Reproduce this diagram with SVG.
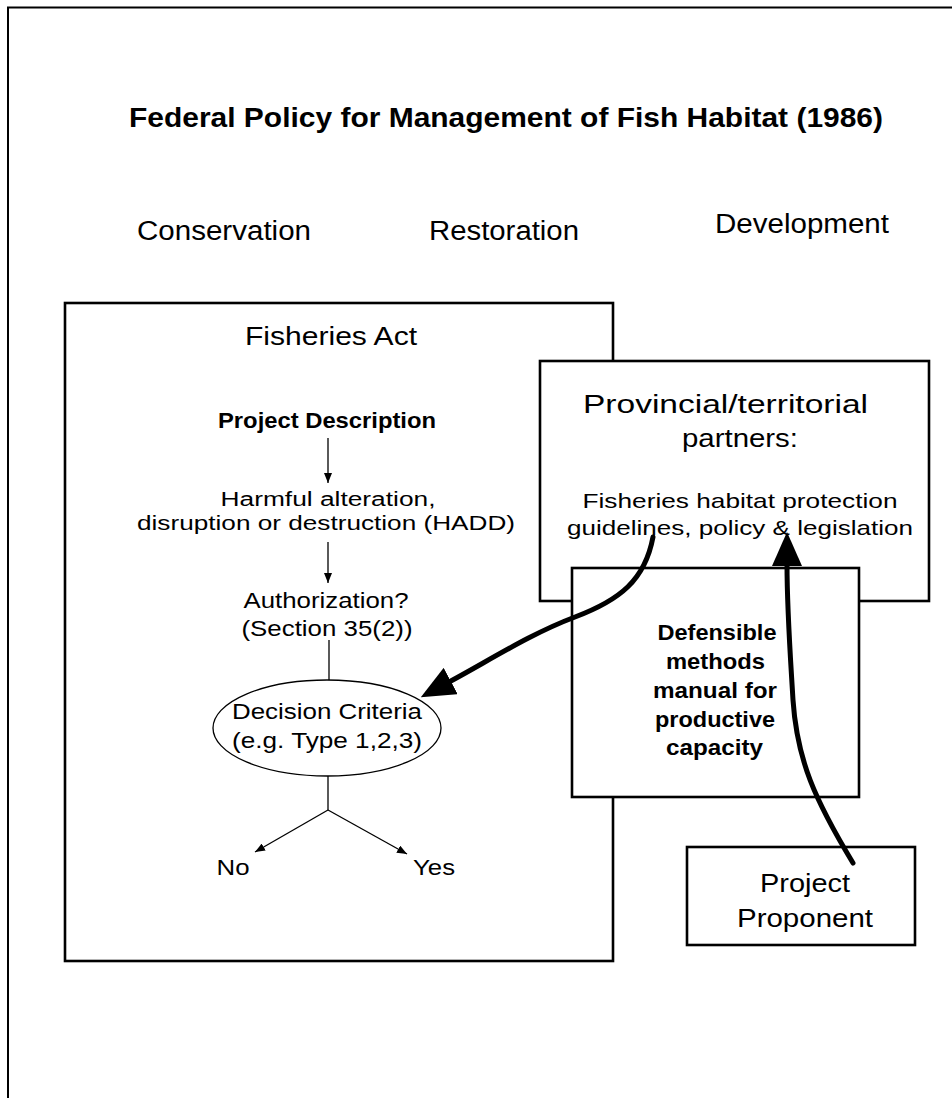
<svg xmlns="http://www.w3.org/2000/svg" width="952" height="1098" viewBox="0 0 952 1098">
  <style>
    text { font-family: "Liberation Sans", Arial, sans-serif; fill: #000; text-anchor: middle; }
    .title { font-size: 28px; font-weight: bold; }
    .col { font-size: 27px; }
    .head { font-size: 26px; }
    .bodyb { font-size: 22px; font-weight: bold; }
    .body { font-size: 22px; }
    .body2 { font-size: 20px; }
    .prov { font-size: 25px; }
    .prov2 { font-size: 21px; }
    .pp { font-size: 26px; }
    .box { fill: #fff; stroke: #000; stroke-width: 2.6; }
    .thin { fill: none; stroke: #000; stroke-width: 1.3; }
    .thick { fill: none; stroke: #000; stroke-width: 5; stroke-linecap: round; }
  </style>
  <defs>
    <marker id="small" markerUnits="userSpaceOnUse" viewBox="0 0 10 8" refX="10" refY="4" markerWidth="10" markerHeight="8" orient="auto">
      <path d="M0,0 L10,4 L0,8 z" fill="#000"/>
    </marker>
    <marker id="big" markerUnits="userSpaceOnUse" viewBox="0 0 34 30" refX="2" refY="15" markerWidth="34" markerHeight="30" orient="auto">
      <path d="M0,0 L34,15 L0,30 z" fill="#000"/>
    </marker>
  </defs>
  <rect x="0" y="0" width="952" height="1098" fill="#fff"/>
  <path d="M8 1098 V7.5 H952" fill="none" stroke="#000" stroke-width="2"/>

  <g id="title">
    <text class="title" x="506" y="127" textLength="754" lengthAdjust="spacingAndGlyphs">Federal Policy for Management of Fish Habitat (1986)</text>
  </g>
  <g id="conservation">
    <text class="col" x="224" y="240" textLength="174" lengthAdjust="spacingAndGlyphs">Conservation</text>
  </g>
  <g id="restoration">
    <text class="col" x="504" y="240" textLength="150" lengthAdjust="spacingAndGlyphs">Restoration</text>
  </g>
  <g id="development">
    <text class="col" x="802" y="233" textLength="174" lengthAdjust="spacingAndGlyphs">Development</text>
  </g>

  <g id="fisheries-act">
    <rect class="box" x="65" y="303" width="548" height="658"/>
    <text class="head" x="331" y="345" textLength="172" lengthAdjust="spacingAndGlyphs">Fisheries Act</text>
  </g>
  <g id="project-description">
    <text class="bodyb" x="327" y="428" textLength="218" lengthAdjust="spacingAndGlyphs">Project Description</text>
  </g>
  <g id="hadd">
    <text class="body2" x="328" y="506" textLength="215" lengthAdjust="spacingAndGlyphs">Harmful alteration,</text>
    <text class="body2" x="326" y="530" textLength="378" lengthAdjust="spacingAndGlyphs">disruption or destruction (HADD)</text>
  </g>
  <g id="authorization">
    <text class="body" x="326" y="608" textLength="165" lengthAdjust="spacingAndGlyphs">Authorization?</text>
    <text class="body" x="327" y="636" textLength="171" lengthAdjust="spacingAndGlyphs">(Section 35(2))</text>
  </g>
  <g id="decision-criteria">
    <ellipse cx="327" cy="728" rx="114" ry="48" fill="#fff" stroke="#000" stroke-width="1.3"/>
    <text class="body" x="327" y="719" textLength="190" lengthAdjust="spacingAndGlyphs">Decision Criteria</text>
    <text class="body" x="327" y="748" textLength="190" lengthAdjust="spacingAndGlyphs">(e.g. Type 1,2,3)</text>
  </g>
  <g id="no">
    <text class="body" x="233" y="875" textLength="33" lengthAdjust="spacingAndGlyphs">No</text>
  </g>
  <g id="yes">
    <text class="body" x="434" y="875" textLength="42" lengthAdjust="spacingAndGlyphs">Yes</text>
  </g>

  <g id="provincial">
    <rect class="box" x="540" y="361" width="389" height="240"/>
    <text class="prov" x="725.5" y="413" textLength="285" lengthAdjust="spacingAndGlyphs">Provincial/territorial</text>
    <text class="prov" x="740" y="447" textLength="116" lengthAdjust="spacingAndGlyphs">partners:</text>
    <text class="prov2" x="740" y="508" textLength="315" lengthAdjust="spacingAndGlyphs">Fisheries habitat protection</text>
    <text class="prov2" x="740" y="535" textLength="346" lengthAdjust="spacingAndGlyphs">guidelines, policy &amp; legislation</text>
  </g>

  <g id="defensible">
    <rect class="box" x="572" y="568" width="287" height="229"/>
    <text class="bodyb" x="717" y="640" textLength="119" lengthAdjust="spacingAndGlyphs">Defensible</text>
    <text class="bodyb" x="715.5" y="669" textLength="99" lengthAdjust="spacingAndGlyphs">methods</text>
    <text class="bodyb" x="715" y="698" textLength="124" lengthAdjust="spacingAndGlyphs">manual for</text>
    <text class="bodyb" x="715" y="727" textLength="120" lengthAdjust="spacingAndGlyphs">productive</text>
    <text class="bodyb" x="714.5" y="755" textLength="97" lengthAdjust="spacingAndGlyphs">capacity</text>
  </g>

  <g id="project-proponent">
    <rect class="box" x="687" y="847" width="228" height="98"/>
    <text class="pp" x="805" y="892" textLength="90" lengthAdjust="spacingAndGlyphs">Project</text>
    <text class="pp" x="805" y="927" textLength="136" lengthAdjust="spacingAndGlyphs">Proponent</text>
  </g>

  <g id="connectors">
    <line class="thin" x1="328" y1="438" x2="328" y2="483" marker-end="url(#small)"/>
    <line class="thin" x1="328" y1="542" x2="328" y2="583" marker-end="url(#small)"/>
    <line class="thin" x1="329" y1="640" x2="329" y2="680"/>
    <line class="thin" x1="328" y1="776" x2="328" y2="810"/>
    <line class="thin" x1="328" y1="810" x2="255" y2="852" marker-end="url(#small)"/>
    <line class="thin" x1="328" y1="810" x2="407" y2="854" marker-end="url(#small)"/>
    <path class="thick" d="M653 537 C645 580 620 600 575 617 C530 634 490 660 449 682" marker-end="url(#big)"/>
    <path class="thick" d="M853 863 C815 800 797 760 793 700 C790 650 787 610 787 564" marker-end="url(#big)"/>
  </g>
</svg>
